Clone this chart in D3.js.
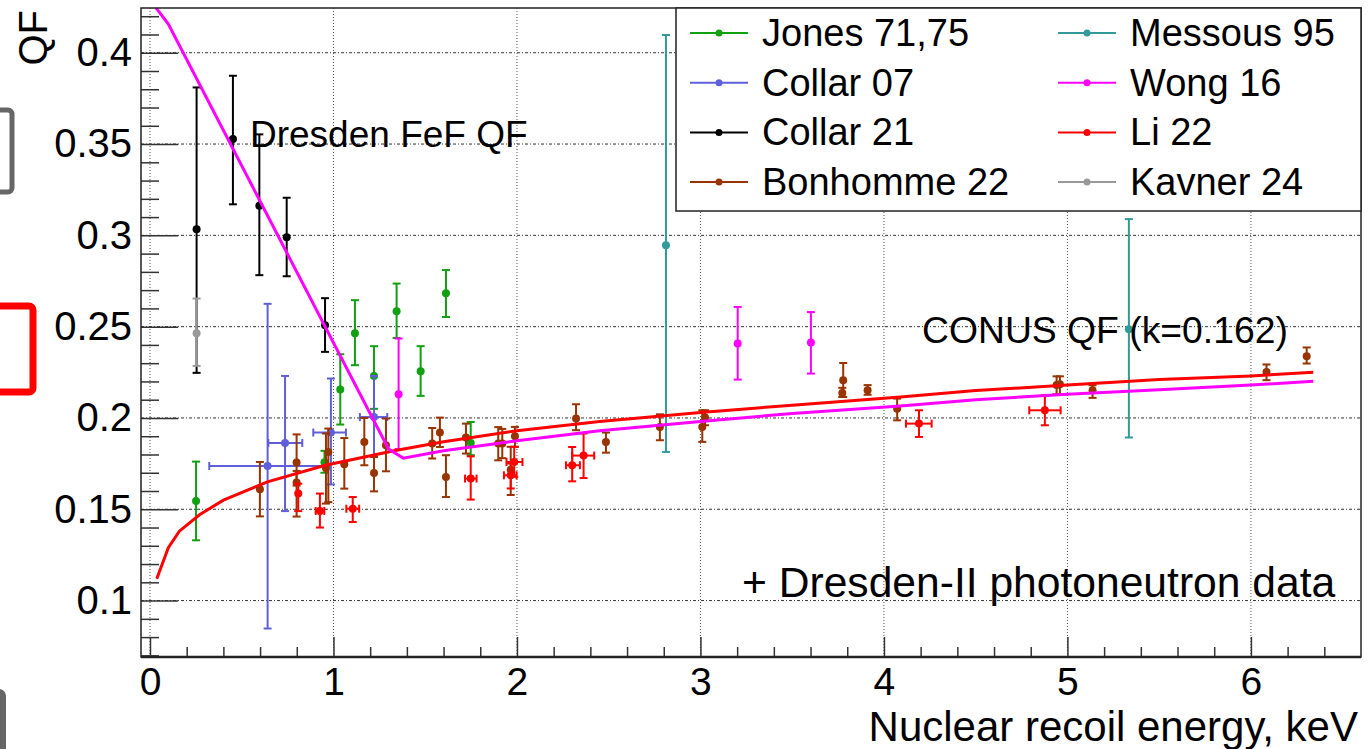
<!DOCTYPE html>
<html>
<head>
<meta charset="utf-8">
<script src="https://cdn.jsdelivr.net/npm/d3@7"></script>
<style>
body { margin: 0; background: #fff; }
svg { display: block; font-family: "Liberation Sans", Arial, sans-serif; }
</style>
</head>
<body>
<svg id="chart" width="1368" height="749"></svg>
<script>
// data points: [E keV, QF, QF low, QF high] (+ [E low, E high] where there is an x error)
var jones = [
  [0.251, 0.1545, 0.133, 0.1761],
  [0.951, 0.1757, 0.170, 0.182],
  [1.037, 0.2156, 0.1964, 0.2349],
  [1.117, 0.2464, 0.2289, 0.2645],
  [1.221, 0.223, 0.205, 0.2393],
  [1.344, 0.2585, 0.2438, 0.2736],
  [1.475, 0.2256, 0.2121, 0.2393],
  [1.613, 0.2683, 0.2553, 0.281],
  [1.748, 0.1863, 0.1796, 0.1978]
];
var collar07 = [
  [0.641, 0.1737, 0.0847, 0.2625, 0.323, 0.963],
  [0.736, 0.1863, 0.149, 0.223, 0.645, 0.83],
  [0.986, 0.192, 0.1636, 0.2216, 0.89, 1.068],
  [1.221, 0.2005, 0.1786, 0.223, 1.144, 1.293]
];
var collar21 = [
  [0.254, 0.3033, 0.2247, 0.381],
  [0.452, 0.3527, 0.317, 0.3874],
  [0.596, 0.3162, 0.2782, 0.3553],
  [0.745, 0.2989, 0.2776, 0.3206],
  [0.954, 0.2508, 0.2362, 0.2656]
];
var bonhomme = [
  [0.599, 0.161, 0.1461, 0.1759],
  [0.799, 0.1756, 0.163, 0.191],
  [0.799, 0.1647, 0.146, 0.171],
  [0.972, 0.1814, 0.1539, 0.1942],
  [0.959, 0.1726, 0.1531, 0.1915],
  [1.059, 0.1746, 0.1613, 0.189],
  [1.168, 0.1869, 0.1741, 0.2],
  [1.221, 0.1699, 0.1598, 0.1786],
  [1.286, 0.185, 0.1708, 0.1997],
  [1.538, 0.186, 0.1778, 0.1945],
  [1.58, 0.192, 0.1841, 0.2002],
  [1.613, 0.1677, 0.1567, 0.1796],
  [1.722, 0.1893, 0.1805, 0.1969],
  [1.898, 0.186, 0.1768, 0.195],
  [1.92, 0.186, 0.178, 0.194],
  [1.966, 0.1717, 0.1578, 0.1842],
  [1.989, 0.19, 0.1842, 0.1951],
  [2.322, 0.1997, 0.1933, 0.2075],
  [2.485, 0.1868, 0.181, 0.192],
  [2.779, 0.1951, 0.1878, 0.202],
  [3.01, 0.1951, 0.1869, 0.2042],
  [3.025, 0.2002, 0.196, 0.2042],
  [3.778, 0.2207, 0.2115, 0.2301],
  [3.773, 0.2137, 0.2115, 0.2165],
  [3.911, 0.2152, 0.2127, 0.218],
  [4.072, 0.2051, 0.1987, 0.2106],
  [4.941, 0.218, 0.213, 0.2228],
  [4.959, 0.2185, 0.213, 0.2228],
  [5.137, 0.2152, 0.211, 0.2179],
  [6.085, 0.2252, 0.2207, 0.2293],
  [6.304, 0.2338, 0.2298, 0.2386]
];
var messous = [
  [2.812, 0.2946, 0.1814, 0.4097],
  [5.335, 0.2486, 0.1893, 0.3089]
];
var wong = [
  [1.355, 0.213, 0.183, 0.2435],
  [3.203, 0.2408, 0.221, 0.2608],
  [3.602, 0.2413, 0.2243, 0.258]
];
var li22 = [
  [0.808, 0.1587, 0.149, 0.164],
  [0.926, 0.1491, 0.14, 0.1586, 0.903, 0.95],
  [1.105, 0.1503, 0.143, 0.1567, 1.07, 1.14],
  [1.748, 0.1668, 0.1553, 0.179, 1.717, 1.78],
  [1.966, 0.1686, 0.1614, 0.1751, 1.929, 1.998],
  [1.985, 0.1759, 0.1678, 0.1842, 1.943, 2.03],
  [2.301, 0.1741, 0.1653, 0.1841, 2.267, 2.343],
  [2.363, 0.1794, 0.1671, 0.1915, 2.301, 2.421],
  [4.191, 0.1969, 0.1896, 0.2042, 4.12, 4.26],
  [4.877, 0.2042, 0.196, 0.2124, 4.792, 4.963]
];
var kavner = [
  [0.254, 0.2464, 0.2285, 0.2654]
];

// model curves
var conusE  = [0.037, 0.1, 0.16, 0.27, 0.4, 0.64, 0.95, 1.33, 1.6, 2.0, 2.45, 3.0, 3.5, 4.09, 4.5, 5.0, 5.5, 6.0, 6.34];
var conusQF = [0.112, 0.129, 0.138, 0.147, 0.155, 0.165, 0.174, 0.182, 0.187, 0.193, 0.198, 0.203, 0.207, 0.2115, 0.215, 0.218, 0.221, 0.223, 0.225];
var fefE  = [0.0, 0.1, 1.3, 1.38, 1.6, 2.0, 2.45, 3.0, 3.5, 4.09, 4.5, 5.0, 5.5, 6.0, 6.34];
var fefQF = [0.429, 0.4157, 0.183, 0.178, 0.182, 0.1875, 0.193, 0.198, 0.2025, 0.2065, 0.21, 0.213, 0.2155, 0.218, 0.2201];

var legendNames  = ['Jones 71,75', 'Collar 07', 'Collar 21', 'Bonhomme 22', 'Messous 95', 'Wong 16', 'Li 22', 'Kavner 24'];
var legendColors = ['#10a010', '#5f5fdc', '#000000', '#993300', '#339999', '#ff00ff', '#ff0000', '#999999'];
var seriesList   = [jones, collar07, collar21, bonhomme, messous, wong, li22, kavner];

var xTicks = [0, 1, 2, 3, 4, 5, 6];
var yTicks = [0.1, 0.15, 0.2, 0.25, 0.3, 0.35, 0.4];

var svg = d3.select('#chart');
var margin = { top: 8, right: 7, bottom: 92, left: 141 };
var W = 1368 - margin.left - margin.right;
var H = 749 - margin.top - margin.bottom;

var x = d3.scaleLinear().domain([-0.049, 6.6]).range([0, W]);
var y = d3.scaleLinear().domain([0.0691, 0.4245]).range([H, 0]);

// left-side slide leftovers
svg.append('rect').attr('x', -30).attr('y', 110).attr('width', 42).attr('height', 82)
  .attr('rx', 4).attr('fill', 'none').attr('stroke', '#666').attr('stroke-width', 5);
svg.append('rect').attr('x', -30).attr('y', 306).attr('width', 63).attr('height', 86)
  .attr('rx', 4).attr('fill', 'none').attr('stroke', '#ff0000').attr('stroke-width', 7);
svg.append('rect').attr('x', -30).attr('y', 692).attr('width', 33).attr('height', 100)
  .attr('rx', 4).attr('fill', 'none').attr('stroke', '#666').attr('stroke-width', 6);

var g = svg.append('g').attr('transform', 'translate(' + margin.left + ',' + margin.top + ')');

g.append('clipPath').attr('id', 'clip').append('rect').attr('width', W).attr('height', H);

// grid
g.selectAll('.gx').data(xTicks).enter().append('line')
  .attr('x1', d => x(d)).attr('x2', d => x(d)).attr('y1', 0).attr('y2', H)
  .attr('stroke', '#555').attr('stroke-width', 1).attr('stroke-dasharray', '1,2');
g.selectAll('.gy').data(yTicks).enter().append('line')
  .attr('x1', 0).attr('x2', W).attr('y1', d => y(d)).attr('y2', d => y(d))
  .attr('stroke', '#333').attr('stroke-width', 1).attr('stroke-dasharray', '3,2,1,2');

// axes
var xMinor = d3.range(0, 6.5, 0.2).filter(v => Math.abs(v - Math.round(v)) > 1e-6);
var yMinor = d3.range(0.07, 0.425, 0.01).filter(v => Math.abs(v * 20 - Math.round(v * 20)) > 1e-6);

var xAxis_g = g.append('g').attr('transform', 'translate(0,' + H + ')')
  .call(d3.axisBottom(x).tickValues(xTicks).tickSize(-20).tickPadding(10).tickFormat(d3.format('d')));
g.append('g').attr('transform', 'translate(0,' + H + ')')
  .call(d3.axisBottom(x).tickValues(xMinor).tickSize(-10).tickFormat(''));
var yAxis_g = g.append('g')
  .call(d3.axisLeft(y).tickValues(yTicks).tickSize(-37).tickPadding(9).tickFormat(d => String(+d.toFixed(2))));
g.append('g')
  .call(d3.axisLeft(y).tickValues(yMinor).tickSize(-18).tickFormat(''));

g.selectAll('.domain').remove();
g.selectAll('.tick line').attr('stroke', '#333').attr('stroke-width', 1.5);
g.selectAll('.tick text').attr('font-size', 40).attr('fill', '#000')
  .attr('font-family', '"Liberation Sans", Arial, sans-serif');
xAxis_g.selectAll('.tick text').attr('font-size', 39);

// data
var plot = g.append('g').attr('clip-path', 'url(#clip)');
var cap = 4;
seriesList.forEach(function(series, i) {
  var col = legendColors[i];
  var sg = plot.append('g');
  series.forEach(function(p) {
    var cx = x(p[0]), cy = y(p[1]);
    sg.append('line').attr('x1', cx).attr('x2', cx).attr('y1', y(p[2])).attr('y2', y(p[3]))
      .attr('stroke', col).attr('stroke-width', 2);
    sg.append('line').attr('x1', cx - cap).attr('x2', cx + cap).attr('y1', y(p[2])).attr('y2', y(p[2]))
      .attr('stroke', col).attr('stroke-width', 2);
    sg.append('line').attr('x1', cx - cap).attr('x2', cx + cap).attr('y1', y(p[3])).attr('y2', y(p[3]))
      .attr('stroke', col).attr('stroke-width', 2);
    if (p.length > 4) {
      sg.append('line').attr('x1', x(p[4])).attr('x2', x(p[5])).attr('y1', cy).attr('y2', cy)
        .attr('stroke', col).attr('stroke-width', 2);
      sg.append('line').attr('x1', x(p[4])).attr('x2', x(p[4])).attr('y1', cy - cap).attr('y2', cy + cap)
        .attr('stroke', col).attr('stroke-width', 2);
      sg.append('line').attr('x1', x(p[5])).attr('x2', x(p[5])).attr('y1', cy - cap).attr('y2', cy + cap)
        .attr('stroke', col).attr('stroke-width', 2);
    }
    sg.append('circle').attr('cx', cx).attr('cy', cy).attr('r', 4).attr('fill', col);
  });
});

// curves
var line = d3.line().x(d => x(d[0])).y(d => y(d[1]));
plot.append('path').datum(d3.zip(conusE, conusQF)).attr('d', line)
  .attr('fill', 'none').attr('stroke', '#ff0000').attr('stroke-width', 3);
plot.append('path').datum(d3.zip(fefE, fefQF)).attr('d', line)
  .attr('fill', 'none').attr('stroke', '#ff00ff').attr('stroke-width', 3);

// frame
g.append('rect').attr('width', W).attr('height', H).attr('fill', 'none')
  .attr('stroke', '#222').attr('stroke-width', 1.5);
g.append('line').attr('x1', 0).attr('x2', W).attr('y1', H).attr('y2', H)
  .attr('stroke', '#222').attr('stroke-width', 2.5);

// legend
var leg = g.append('g').attr('transform', 'translate(' + (676 - margin.left) + ',0)');
leg.append('rect').attr('width', W - (676 - margin.left)).attr('height', 203)
  .attr('fill', '#fff').attr('stroke', '#222').attr('stroke-width', 1.5);
legendNames.forEach(function(name, i) {
  var col = Math.floor(i / 4), row = i % 4;
  var lx = col === 0 ? 14 : 382;
  var ly = 25 + row * 49.7;
  var it = leg.append('g').attr('transform', 'translate(' + lx + ',' + ly + ')');
  it.append('line').attr('x1', 0).attr('x2', 58).attr('stroke', legendColors[i]).attr('stroke-width', 2);
  it.append('circle').attr('cx', 29).attr('r', 3.5).attr('fill', legendColors[i]);
  it.append('text').attr('x', 72).attr('y', 13).attr('font-size', 38).text(name);
});

// annotations
g.append('text').attr('x', 250 - margin.left).attr('y', 147 - margin.top).attr('font-size', 37).text('Dresden FeF QF');
g.append('text').attr('x', 922 - margin.left).attr('y', 343 - margin.top).attr('font-size', 37.3).text('CONUS QF (k=0.162)');
g.append('text').attr('x', 742 - margin.left).attr('y', 597 - margin.top).attr('font-size', 42.6).text('+ Dresden-II photoneutron data');

// axis titles
svg.append('text').attr('x', 1358).attr('y', 741).attr('text-anchor', 'end').attr('font-size', 42)
  .text('Nuclear recoil energy, keV');
svg.append('text').attr('transform', 'translate(47,10) rotate(-90)').attr('text-anchor', 'end')
  .attr('font-size', 40).text('QF');
</script>
</body>
</html>
